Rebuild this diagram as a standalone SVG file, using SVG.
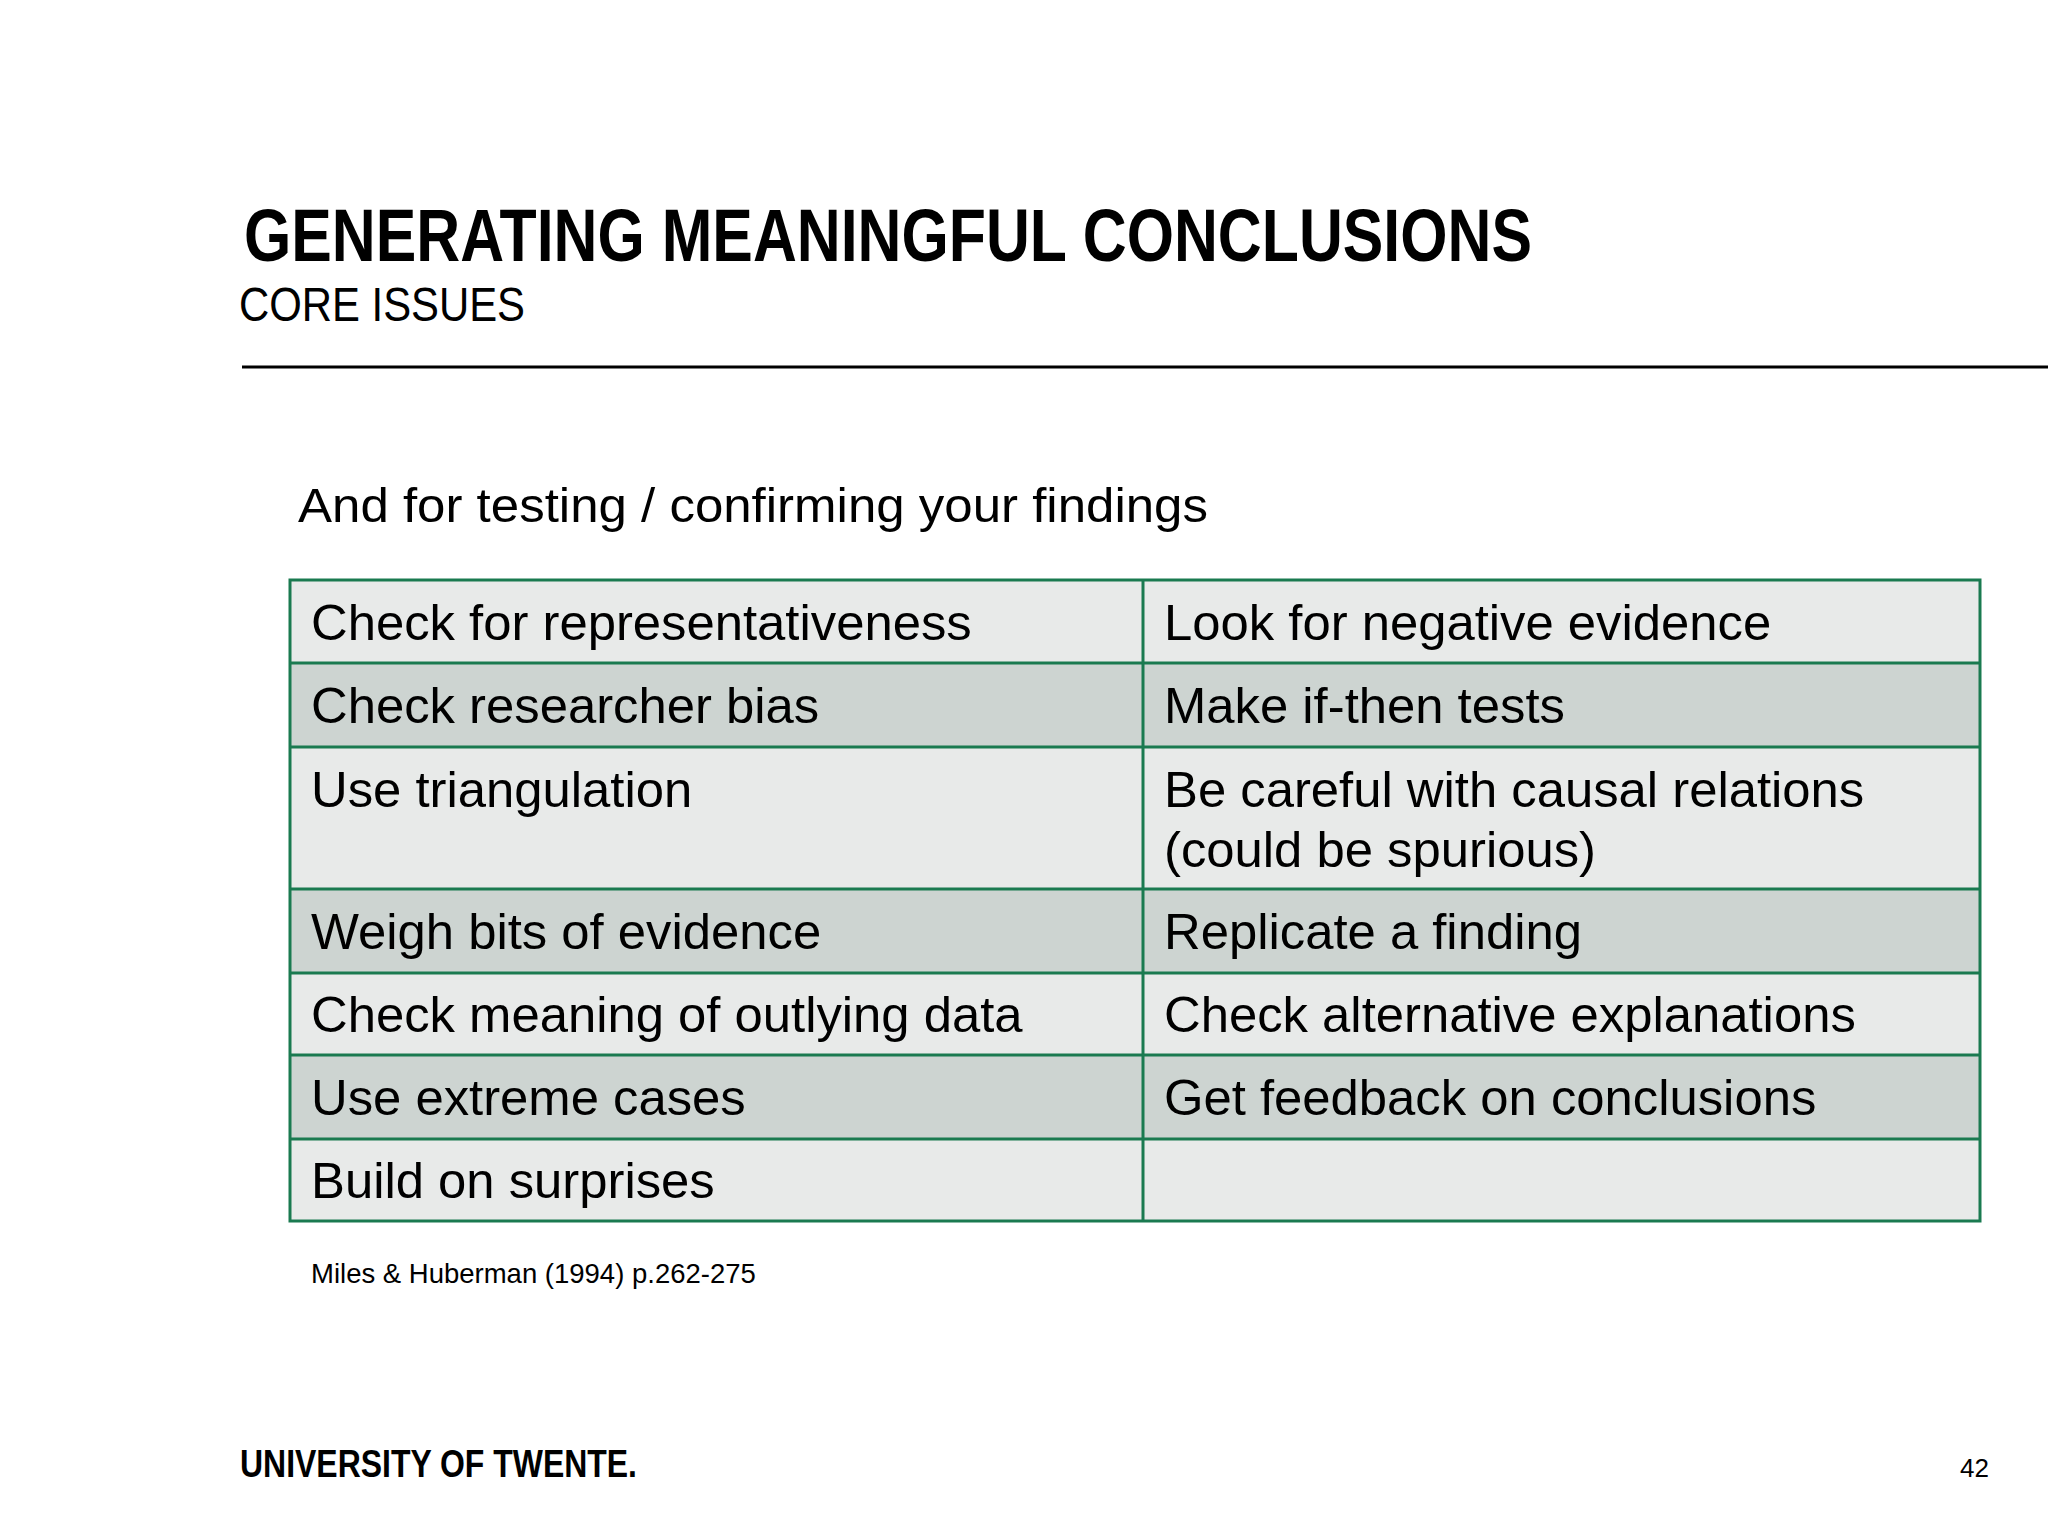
<svg xmlns="http://www.w3.org/2000/svg" width="2048" height="1536" viewBox="0 0 2048 1536">
<style>
text{font-family:"Liberation Sans",Arial,sans-serif;fill:#000}
.c{font-size:50.8px}
.l{fill:#e8eae9}.d{fill:#cdd4d1}
.g{stroke:#1a7a50;stroke-width:3;fill:none}
</style>
<rect width="2048" height="1536" fill="#fff"/>
<text x="244" y="261" font-size="74" font-weight="bold" textLength="1288" lengthAdjust="spacingAndGlyphs">GENERATING MEANINGFUL CONCLUSIONS</text>
<text x="239" y="321" font-size="48" textLength="286" lengthAdjust="spacingAndGlyphs">CORE ISSUES</text>
<line x1="242" y1="367" x2="2048" y2="367" stroke="#000" stroke-width="3"/>
<text x="298" y="522" font-size="49" textLength="910" lengthAdjust="spacingAndGlyphs">And for testing / confirming your findings</text>
<g id="table">
<rect class="l" x="290" y="580" width="1690" height="83"/>
<rect class="d" x="290" y="663" width="1690" height="84"/>
<rect class="l" x="290" y="747" width="1690" height="142"/>
<rect class="d" x="290" y="889" width="1690" height="84"/>
<rect class="l" x="290" y="973" width="1690" height="82"/>
<rect class="d" x="290" y="1055" width="1690" height="84"/>
<rect class="l" x="290" y="1139" width="1690" height="82"/>
<rect class="g" x="290" y="580" width="1690" height="641"/>
<path class="g" d="M1143 580V1221M290 663H1980M290 747H1980M290 889H1980M290 973H1980M290 1055H1980M290 1139H1980"/>
<text class="c" x="311" y="640">Check for representativeness</text>
<text class="c" x="1164" y="640">Look for negative evidence</text>
<text class="c" x="311" y="723">Check researcher bias</text>
<text class="c" x="1164" y="723">Make if-then tests</text>
<text class="c" x="311" y="807">Use triangulation</text>
<text class="c" x="1164" y="807">Be careful with causal relations</text>
<text class="c" x="1164" y="867">(could be spurious)</text>
<text class="c" x="311" y="949">Weigh bits of evidence</text>
<text class="c" x="1164" y="949">Replicate a finding</text>
<text class="c" x="311" y="1032">Check meaning of outlying data</text>
<text class="c" x="1164" y="1032">Check alternative explanations</text>
<text class="c" x="311" y="1115">Use extreme cases</text>
<text class="c" x="1164" y="1115">Get feedback on conclusions</text>
<text class="c" x="311" y="1198">Build on surprises</text>
</g>
<text x="311" y="1283" font-size="27.5">Miles &amp; Huberman (1994) p.262-275</text>
<text x="240" y="1477" font-size="38" font-weight="bold" textLength="397" lengthAdjust="spacingAndGlyphs">UNIVERSITY OF TWENTE.</text>
<text x="1989" y="1477" font-size="26" text-anchor="end">42</text>
</svg>
